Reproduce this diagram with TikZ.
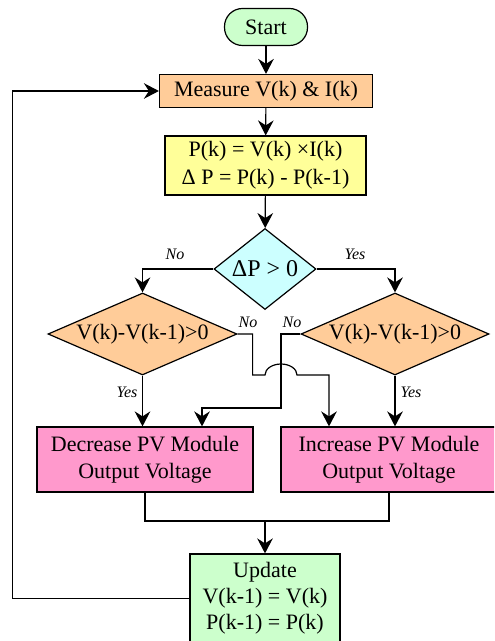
\documentclass[tikz,border=0pt]{standalone}
\usepackage{fontspec}
\setmainfont{Liberation Serif}
\usetikzlibrary{shapes.geometric,arrows.meta,positioning,calc}
\definecolor{SoftGreen}{HTML}{CCFFCC}
\definecolor{SoftOrange}{HTML}{FFCC99}
\definecolor{SoftYellow}{HTML}{FFFF99}
\definecolor{SoftCyan}{HTML}{CCFFFF}
\definecolor{SoftPink}{HTML}{FF99CC}
\tikzset{
  FB/.style={rectangle,draw,line width=0.6pt,inner sep=0pt,
             text centered,align=center,
             font=\fontsize{11}{13.5}\selectfont},
  DM/.style={diamond,draw,line width=0.6pt,inner sep=0pt,
             text centered,align=center,
             font=\fontsize{11}{13.5}\selectfont},
  arr/.style={-{Stealth[length=7.5pt,width=7.8pt,inset=2.5pt]},line width=0.6pt},
  ln/.style={line width=0.6pt},
  lb/.style={font=\fontsize{8}{9}\selectfont\itshape}
}

\begin{document}
\begin{tikzpicture}[x=0.5pt,y=0.5pt]
  \useasboundingbox (0,0) rectangle (494,-641);
  \clip (0,0) rectangle (494,-641);

  \node[FB,fill=SoftGreen,rounded corners=9pt,minimum width=41.5pt,minimum height=18.5pt] (start) at (266,-27) {Start};
  \node[FB,fill=SoftOrange,minimum width=106.5pt,minimum height=16.5pt] (meas) at (266,-91) {Measure V(k) \& I(k)};
  \node[FB,fill=SoftYellow,minimum width=100.5pt,minimum height=29.5pt,font=\fontsize{11}{14}\selectfont] (pow) at (265.5,-165.5) {P(k) = V(k) ×I(k)\\Δ P = P(k) - P(k-1)};
  \node[DM,fill=SoftCyan,aspect=1.26,minimum width=51pt,minimum height=40.5pt,font=\fontsize{12}{14}\selectfont] (dp) at (265,-269) {ΔP > 0};
  \node[DM,fill=SoftOrange,aspect=2.3,minimum width=94.5pt,minimum height=41pt] (ld) at (142.5,-334) {V(k)-V(k-1)>0};
  \node[DM,fill=SoftOrange,aspect=2.3,minimum width=94pt,minimum height=41pt] (rd) at (395,-334) {V(k)-V(k-1)>0};
  \node[FB,fill=SoftPink,minimum width=108pt,minimum height=32.5pt] (dec) at (145,-459.5) {Decrease PV Module\\Output Voltage};
  \node[FB,fill=SoftPink,minimum width=108pt,minimum height=32.5pt] (inc) at (389,-459.5) {Increase PV Module\\Output Voltage};
  \node[FB,fill=SoftGreen,minimum width=75pt,minimum height=44.5pt,font=\fontsize{11}{13}\selectfont] (upd) at (265,-598.5) {Update\\V(k-1) = V(k)\\P(k-1) = P(k)};

  \node[lb] (noA) at (175,-254) {No};
  \node[lb] (yesA) at (355,-254) {Yes};
  \node[lb] (noL) at (248,-322) {No};
  \node[lb] (noR) at (292,-322) {No};
  \node[lb] (yesL) at (127,-392) {Yes};
  \node[lb] (yesR) at (411,-392) {Yes};

  \coordinate (jmp) at (281,-375);
  \coordinate (jn) at (265,-521);

  \draw[arr](start)--(meas);
  \draw[arr](meas)--(pow);
  \draw[arr](pow)--(dp);
  \draw[arr](dp.west)-|(ld.north);
  \draw[arr](dp.east)-|(rd.north);
  \draw[arr](ld.south)--(ld.south |- dec.north);
  \draw[arr](rd.south)--(rd.south |- inc.north);
  \draw[arr](ld.east)--++(15,0)|-($(jmp)+(-16,0)$) arc[start angle=180,end angle=0,x radius=16,y radius=11] -|($(inc.north)+(-60,0)$);
  \draw[arr](rd.west)-|(jmp)--++(0,-33)-|($(dec.north)+(57,0)$);
  \draw[ln](dec.south)|-(jn)-|(inc.south);
  \draw[arr](jn)--(upd.north);
  \draw[arr](upd.west)--++(-177,0)|-(meas.west);
\end{tikzpicture}
\end{document}
